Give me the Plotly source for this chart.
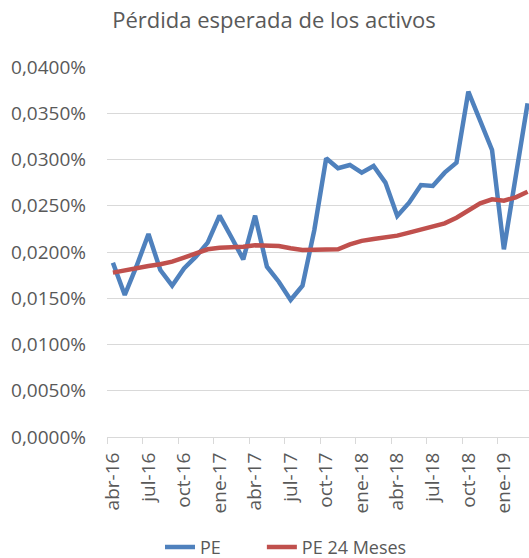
import plotly.graph_objects as go

months = ["abr-16","may-16","jun-16","jul-16","ago-16","sep-16","oct-16","nov-16","dic-16",
          "ene-17","feb-17","mar-17","abr-17","may-17","jun-17","jul-17","ago-17","sep-17",
          "oct-17","nov-17","dic-17","ene-18","feb-18","mar-18","abr-18","may-18","jun-18",
          "jul-18","ago-18","sep-18","oct-18","nov-18","dic-18","ene-19","feb-19","mar-19"]

# values in percent
pe = [0.01884, 0.01535, 0.01849, 0.02195, 0.01805, 0.01636, 0.01823, 0.01949, 0.02101,
      0.02393, 0.02159, 0.01921, 0.02393, 0.01841, 0.01679, 0.01481, 0.01636, 0.02238,
      0.03013, 0.02905, 0.02941, 0.02858, 0.02930, 0.02750, 0.02389, 0.02533, 0.02724,
      0.02714, 0.02858, 0.02966, 0.03733, 0.03409, 0.03103, 0.02029, 0.02829, 0.03607]
pe24 = [0.01777, 0.01805, 0.01823, 0.01849, 0.01867, 0.01896, 0.01939, 0.01986, 0.02029,
        0.02047, 0.02047, 0.02058, 0.02072, 0.02068, 0.02065, 0.02040, 0.02022, 0.02025,
        0.02032, 0.02029, 0.02083, 0.02120, 0.02141, 0.02155, 0.02177, 0.02209, 0.02245,
        0.02274, 0.02310, 0.02371, 0.02454, 0.02526, 0.02570, 0.02555, 0.02591, 0.02652]

label_idx = list(range(0, 36, 3))
label_text = [months[i] for i in label_idx]
boundary_ticks = [i - 0.5 for i in label_idx]

FONT = "Open Sans, sans-serif"
GRAY = "#595959"
GRID = "#d9d9d9"

x = list(range(len(months)))
fig = go.Figure()
fig.add_trace(go.Scatter(x=x, y=[v / 100 for v in pe], mode="lines", name="PE",
                         line=dict(color="#4f81bd", width=4.5), legend="legend"))
fig.add_trace(go.Scatter(x=x, y=[v / 100 for v in pe24], mode="lines", name="PE 24 Meses",
                         line=dict(color="#c0504d", width=4.5), legend="legend2"))

xr = [-0.5, 35.12]
leg_common = dict(orientation="h", y=-0.298, yanchor="middle", xanchor="left",
                  font=dict(size=18, color=GRAY, family=FONT), bgcolor="rgba(0,0,0,0)")
fig.update_layout(
    width=529, height=558,
    margin=dict(l=107, r=0, t=67, b=121, autoexpand=False),
    plot_bgcolor="white", paper_bgcolor="white",
    separators=",.",
    font=dict(family=FONT, color=GRAY, size=18),
    title=dict(text="Pérdida esperada de los activos", x=0.518, xanchor="center",
               y=0.964, yanchor="middle", font=dict(size=22, color=GRAY, family=FONT)),
    xaxis=dict(range=xr, tickmode="array", tickvals=label_idx, ticktext=label_text,
               tickangle=-90, showgrid=False, showline=True, linecolor=GRID, linewidth=1,
               ticks="", zeroline=False, ticklabelstandoff=7,
               tickfont=dict(size=19, color=GRAY, family=FONT)),
    xaxis2=dict(range=xr, overlaying="x", tickmode="array", tickvals=boundary_ticks,
                ticks="outside", ticklen=6, tickcolor=GRID, tickwidth=1,
                showticklabels=False, showgrid=False, showline=False, zeroline=False,
                side="bottom", anchor="y"),
    yaxis=dict(range=[0, 0.0004], tickmode="linear", tick0=0, dtick=0.00005,
               tickformat=".4%", showgrid=True, gridcolor=GRID, gridwidth=1.2,
               zeroline=False, showline=False, ticklabelstandoff=20,
               tickfont=dict(size=19, color=GRAY, family=FONT)),
    legend=dict(x=0.1256, **leg_common),
    legend2=dict(x=0.367, **leg_common),
    showlegend=True,
)
# invisible helper trace to activate xaxis2 tick marks
fig.add_trace(go.Scatter(x=[0], y=[None], xaxis="x2", showlegend=False,
                         hoverinfo="skip", mode="lines"))

fig.write_html("out.html", config={"displayModeBar": False},
               post_script="document.body.style.margin='0';")
